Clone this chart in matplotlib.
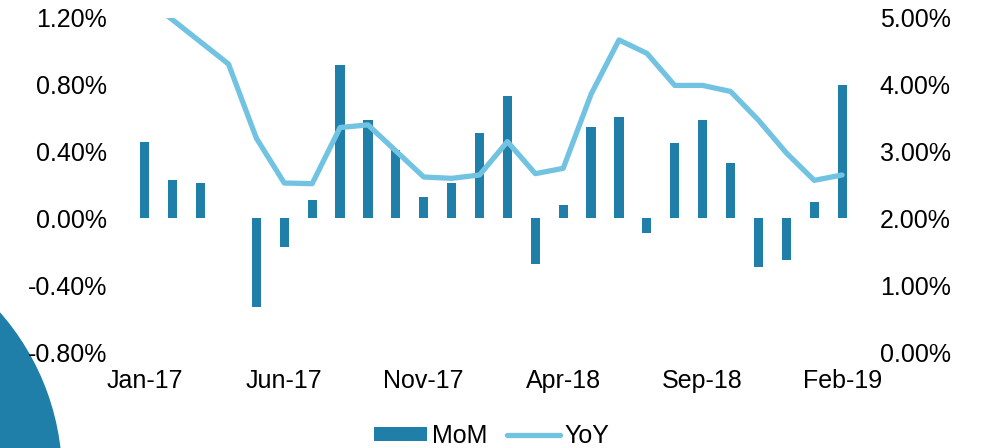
import numpy as np
import matplotlib.pyplot as plt
from matplotlib.patches import Circle
from matplotlib.ticker import FuncFormatter

months = ['Jan-17', 'Feb-17', 'Mar-17', 'Apr-17', 'May-17', 'Jun-17', 'Jul-17',
          'Aug-17', 'Sep-17', 'Oct-17', 'Nov-17', 'Dec-17', 'Jan-18', 'Feb-18',
          'Mar-18', 'Apr-18', 'May-18', 'Jun-18', 'Jul-18', 'Aug-18', 'Sep-18',
          'Oct-18', 'Nov-18', 'Dec-18', 'Jan-19', 'Feb-19']
mom = [0.46, 0.23, 0.21, 0.00, -0.53, -0.17, 0.11, 0.92, 0.59, 0.41, 0.13, 0.21,
       0.51, 0.73, -0.27, 0.08, 0.55, 0.61, -0.09, 0.45, 0.59, 0.33, -0.29, -0.25,
       0.10, 0.80]
yoy = [5.30, 4.97, 4.64, 4.31, 3.20, 2.53, 2.52, 3.36, 3.40, 3.01, 2.62, 2.60,
       2.65, 3.15, 2.67, 2.75, 3.86, 4.67, 4.47, 3.99, 3.99, 3.90, 3.47, 2.98,
       2.57, 2.65]

bar_color = '#1f7fa8'
line_color = '#72c3e2'


def main():
    plt.rcParams['font.family'] = ['Liberation Sans', 'DejaVu Sans']
    fig = plt.figure(figsize=(9.84, 4.48), dpi=100)
    ax = fig.add_axes([0.133, 0.214, 0.737, 0.746])
    ax.set_facecolor('none')
    ax2 = ax.twinx()

    x = np.arange(len(months))
    ax.bar(x, mom, width=0.33, color=bar_color, label='MoM')
    ax2.plot(x, yoy, color=line_color, lw=3.8, solid_capstyle='round', label='YoY')

    ax.set_ylim(-0.8, 1.2)
    ax.set_yticks(np.arange(-0.8, 1.21, 0.4))
    ax2.set_ylim(0, 5)
    ax2.set_yticks(np.arange(0, 5.01, 1))
    ax.set_xlim(-0.5, len(months) - 0.5)
    ax.set_xticks(x[::5])
    ax.set_xticklabels(months[::5])

    pct = FuncFormatter(lambda v, p: '%.2f%%' % v)
    ax.yaxis.set_major_formatter(pct)
    ax2.yaxis.set_major_formatter(pct)

    for a in (ax, ax2):
        for s in a.spines.values():
            s.set_visible(False)
        a.tick_params(length=0, labelsize=18)
    ax.tick_params(axis='y', pad=17)
    ax2.tick_params(axis='y', pad=17)
    ax.tick_params(axis='x', pad=12)

    h1, l1 = ax.get_legend_handles_labels()
    h2, l2 = ax2.get_legend_handles_labels()
    fig.legend(h1 + h2, l1 + l2, loc='lower center', bbox_to_anchor=(0.5, -0.05),
               ncol=2, frameon=False, fontsize=18, handlelength=2.1,
               handleheight=0.5, handletextpad=0.2, columnspacing=0.8)

    circ = Circle((-1.875, -0.292), 2.49, transform=fig.dpi_scale_trans,
                  color=bar_color, zorder=-1)
    fig.add_artist(circ)

    fig.savefig('out.png', dpi=100)


main()
